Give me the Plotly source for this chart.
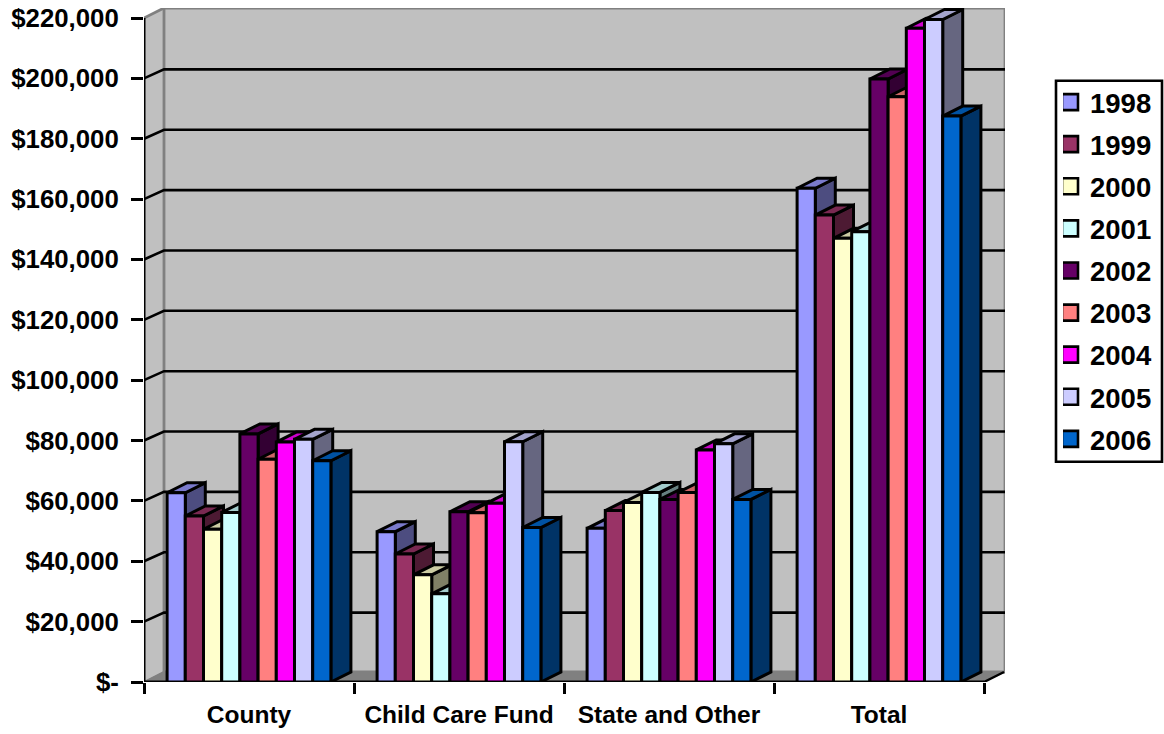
import plotly.graph_objects as go

# Funding by category and year
categories = ["County", "Child Care Fund", "State and Other", "Total"]
years = ["1998", "1999", "2000", "2001", "2002", "2003", "2004", "2005", "2006"]
v1998 = [62700, 49800, 50900, 163600]
v1999 = [55000, 42400, 56800, 154700]
v2000 = [50600, 35500, 59500, 147000]
v2001 = [56200, 29200, 62800, 149200]
v2002 = [82200, 56400, 60500, 199800]
v2003 = [73800, 56100, 62800, 193900]
v2004 = [79500, 59200, 76900, 216600]
v2005 = [80400, 79600, 78900, 219500]
v2006 = [73300, 51200, 60500, 187500]
series_values = [v1998, v1999, v2000, v2001, v2002, v2003, v2004, v2005, v2006]

front_colors = ["#9999FF", "#993366", "#FFFFCC", "#CCFFFF", "#660066",
                "#FF8080", "#FF00FF", "#CCCCFF", "#0066CC"]
top_colors = ["#7A7ACC", "#7A2952", "#CCCCA3", "#A3CCCC", "#520052",
              "#CC6666", "#CC00CC", "#A3A3CC", "#0052A3"]
side_colors = ["#4D4D80", "#4D1A33", "#808066", "#668080", "#330033",
               "#804040", "#800080", "#666680", "#003366"]

y_ticks = list(range(0, 220001, 20000))
y_labels = ["$-"] + [f"${t:,}" for t in y_ticks[1:]]

# Oblique projection of the depth axis, in data units
PX_PER_CAT = 210.0
PX_PER_VAL = 664.0 / 220000
DX = 20 / PX_PER_CAT
DY = 10 / PX_PER_VAL
GRID_DY = 9 / PX_PER_VAL
BAR_W = 18.2 / PX_PER_CAT
GAP = (1 - BAR_W * len(years)) / 2
X_MAX = len(categories) + DX + 1 / PX_PER_CAT
Y_MAX = 674 / PX_PER_VAL
LW = 3.0

fig = go.Figure()


def poly(xs, ys, fill, line="#000000", width=LW):
    fig.add_trace(go.Scatter(
        x=xs, y=ys, mode="lines", fill="toself", fillcolor=fill,
        line=dict(color=line, width=width), showlegend=False,
        hoverinfo="skip", cliponaxis=False))


def path(xs, ys, color="#000000", width=2.6):
    fig.add_trace(go.Scatter(
        x=xs, y=ys, mode="lines", line=dict(color=color, width=width),
        showlegend=False, hoverinfo="skip", cliponaxis=False))


# Walls and floor
top = y_ticks[-1]
n = len(categories)
poly([0, DX, DX, 0, 0], [0, DY, top + DY, top, 0], "#C0C0C0", "#808080", 0.01)
poly([DX, X_MAX, X_MAX, DX, DX], [DY, DY, top + DY, top + DY, DY], "#C0C0C0", "#808080", 2.8)
poly([0, n, X_MAX, DX, 0], [0, 0, DY, DY, 0], "#808080", "#808080", 1)
path([0, DX], [top, top + DY], "#808080", 2.8)

# Gridlines run across the side wall and the back wall
for t in y_ticks[1:-1]:
    path([0, DX, X_MAX], [t, t + GRID_DY, t + GRID_DY])
path([0, DX], [0, DY], "#808080", 2)

# Axis lines
path([0, n], [0, 0], width=3)
path([n, n + DX], [0, DY], width=2.4)
path([0, 0], [0, top], width=3)

# Bars, painted left to right so that nearer neighbours overlap
for c in range(n):
    for s, values in enumerate(series_values):
        v = values[c]
        x0 = c + GAP + s * BAR_W
        x1 = x0 + BAR_W
        poly([x1, x1 + DX, x1 + DX, x1, x1], [0, DY, v + DY, v, 0], side_colors[s])
        poly([x0, x1, x1 + DX, x0 + DX, x0], [v, v, v + DY, v + DY, v], top_colors[s])
        poly([x0, x1, x1, x0, x0], [0, 0, v, v, 0], front_colors[s])

# Legend entries with square swatches
for s, year in enumerate(years):
    fig.add_trace(go.Scatter(
        x=[None], y=[None], mode="markers", name=year, legendgroup=year,
        marker=dict(symbol="square", size=16, color=front_colors[s],
                    line=dict(color="#000000", width=2.6))))

MARGIN_L, MARGIN_T = 144, 8.3
PLOT_W, PLOT_H = 210 * (n + DX * 1) + 1, 674
font_family = "Liberation Sans, Arial, sans-serif"


def to_paper_x(px):
    return (px - MARGIN_L) / PLOT_W


def to_paper_y(px):
    return 1 - (px - MARGIN_T) / PLOT_H


fig.update_layout(
    width=1164, height=734, autosize=False,
    margin=dict(l=MARGIN_L, r=1164 - MARGIN_L - PLOT_W, t=MARGIN_T,
                b=734 - MARGIN_T - PLOT_H, autoexpand=False),
    paper_bgcolor="#FFFFFF", plot_bgcolor="#FFFFFF",
    showlegend=True,
    shapes=[dict(type="rect", xref="paper", yref="paper",
                 x0=to_paper_x(1056), x1=to_paper_x(1162),
                 y0=to_paper_y(462), y1=to_paper_y(81),
                 fillcolor="#FFFFFF", line=dict(color="#000000", width=2.6), layer="below")],
    legend=dict(
        x=to_paper_x(1063), xanchor="left", y=to_paper_y(78), yanchor="top",
        bgcolor="rgba(0,0,0,0)", borderwidth=0, indentation=-13,
        traceorder="grouped", tracegroupgap=3.35, itemsizing="trace",
        font=dict(family=font_family, size=27.5, color="#000000", weight="bold")),
    xaxis=dict(
        range=[0, X_MAX], showgrid=False, zeroline=False, showline=False,
        tickmode="array", tickvals=[i + 0.5 for i in range(n)], ticktext=categories,
        ticks="", ticklabelstandoff=15,
        tickfont=dict(family=font_family, size=24.5, color="#000000", weight="bold"),
        minor=dict(tickmode="array", tickvals=list(range(n + 1)), ticks="outside",
                   ticklen=11, tickwidth=2.6, tickcolor="#000000")),
    yaxis=dict(
        range=[0, Y_MAX], showgrid=False, zeroline=False, showline=False,
        tickmode="array", tickvals=y_ticks, ticktext=y_labels,
        ticks="outside", ticklen=12, tickwidth=2.6, tickcolor="#000000",
        ticklabelstandoff=7,
        tickfont=dict(family=font_family, size=25.8, color="#000000", weight="bold")),
)
fig.write_html("out.html")
